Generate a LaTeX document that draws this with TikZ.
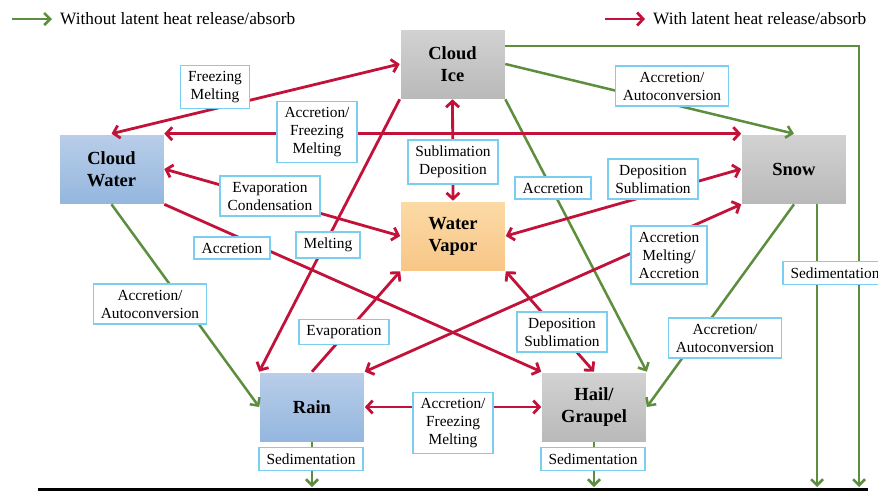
\documentclass[tikz,border=0pt]{standalone}
\usepackage{fontspec}
\setmainfont{Liberation Serif}
\usetikzlibrary{arrows.meta}

\definecolor{latentred}{HTML}{C2123A}
\definecolor{plaingreen}{HTML}{5C8E3E}
\definecolor{labelcyan}{HTML}{7ACFF0}

\tikzset{
  species/.style={minimum width=105pt, minimum height=70pt, inner sep=0pt,
    align=center, font=\fontsize{18.5}{22}\selectfont\bfseries, draw=white, line width=0.6pt},
  icebox/.style={species, top color=gray!35, bottom color=gray!55},
  waterbox/.style={species, top color={rgb,255:red,185;green,206;blue,233}, bottom color={rgb,255:red,148;green,182;blue,222}},
  vaporbox/.style={species, top color={rgb,255:red,252;green,218;blue,166}, bottom color={rgb,255:red,248;green,198;blue,135}},
  latent/.style={draw=latentred, line width=2.8pt, -{Straight Barb[length=6pt,width=13pt]}},
  latent2/.style={latent, {Straight Barb[length=6pt,width=13pt]}-{Straight Barb[length=6pt,width=13pt]}},
  plain/.style={draw=plaingreen, line width=2.5pt, -{Straight Barb[length=6pt,width=12pt]}},
  proc/.style={draw=labelcyan, fill=white, line width=1.4pt, align=center,
    inner xsep=7.5pt, inner ysep=6pt, font=\fontsize{15.4}{18}\selectfont},
}

\begin{document}
\begin{tikzpicture}[x=1pt, y=-1pt]
  \useasboundingbox (0,0) rectangle (878,491);

  % legend
  \node[anchor=west, inner sep=0pt, font=\fontsize{17.3}{20}\selectfont] (lgplain) at (60,19) {Without latent heat release/absorb};
  \node[anchor=west, inner sep=0pt, font=\fontsize{17.3}{20}\selectfont] (lglatent) at (653,19) {With latent heat release/absorb};
  \draw[plain] ([xshift=-48pt]lgplain.west) -- ([xshift=-8pt]lgplain.west);
  \draw[latent] ([xshift=-48pt]lglatent.west) -- ([xshift=-8pt]lglatent.west);

  % species
  \node[icebox] (ice) at (452.5,64) {Cloud\\Ice};
  \node[waterbox] (cw) at (111.5,169) {Cloud\\Water};
  \node[icebox] (snow) at (794,169) {Snow};
  \node[vaporbox] (wv) at (453,236) {Water\\Vapor};
  \node[waterbox] (rain) at (312,407) {Rain};
  \node[icebox] (hail) at (594,407) {Hail/\\Graupel};

  % ground
  \coordinate (gl) at (38,489);
  \coordinate (gr) at (868,489);
  \coordinate (ge) at (859,487);
  \draw[line width=3pt] (gl) -- (gr);

  % without latent heat
  \draw[plain] ([yshift=18pt]ice.east) -| (ge);
  \draw[plain] ([xshift=23pt]snow.south) -- ([xshift=23pt]snow.south |- ge);
  \draw[plain] (ice.east) -- (snow.north);
  \draw[plain] (ice.south east) -- (hail.north east);
  \draw[plain] (snow.south) -- (hail.east);
  \draw[plain] (cw.south) -- (rain.west);
  \draw[plain] (rain.south) -- (rain.south |- ge);
  \draw[plain] (hail.south) -- (hail.south |- ge);

  % with latent heat
  \draw[latent2] (cw.north) -- (ice.west);
  \draw[latent2] (cw.north east) -- (snow.north west);
  \draw[latent2] (cw.east) -- (wv.west);
  \draw[latent2] (ice.south) -- (wv.north);
  \draw[latent] (cw.south east) -- (hail.north west);
  \draw[latent] (ice.south west) -- (rain.north west);
  \draw[latent] (rain.north) -- (wv.south west);
  \draw[latent2] (snow.south west) -- (rain.north east);
  \draw[latent2] (snow.west) -- (wv.east);
  \draw[latent2] (wv.south east) -- (hail.north);
  \draw[latent2] (rain.east) -- (hail.west);

  % processes
  \node[proc] (frzmlt) at (215,87) {Freezing\\Melting};
  \node[proc] (cwsnow) at (317,132) {Accretion/\\Freezing\\Melting};
  \node[proc] (evpcnd) at (270,196) {Evaporation\\Condensation};
  \node[proc] (subdep) at (453,162) {Sublimation\\Deposition};
  \node[proc] (cwhail) at (232,248) {Accretion};
  \node[proc] (icerain) at (328,245) {Melting};
  \node[proc] (rainwv) at (344,332) {Evaporation};
  \node[proc] (cwrain) at (150,304) {Accretion/\\Autoconversion};
  \node[proc] (sedrain) at (311,459) {Sedimentation};
  \node[proc] (sedhail) at (593,459) {Sedimentation};
  \node[proc] (rainhail) at (453,423) {Accretion/\\Freezing\\Melting};
  \node[proc] (wvhail) at (562,332) {Deposition\\Sublimation};
  \node[proc] (snowhail) at (725,338) {Accretion/\\Autoconversion};
  \node[proc] (snowrain) at (669,255) {Accretion\\Melting/\\Accretion};
  \node[proc] (snowwv) at (653,179) {Deposition\\Sublimation};
  \node[proc] (icehail) at (553,188) {Accretion};
  \node[proc] (icesnow) at (672,86) {Accretion/\\Autoconversion};
  \node[proc] (sedsnow) at (835,273) {Sedimentation};
\end{tikzpicture}
\end{document}
